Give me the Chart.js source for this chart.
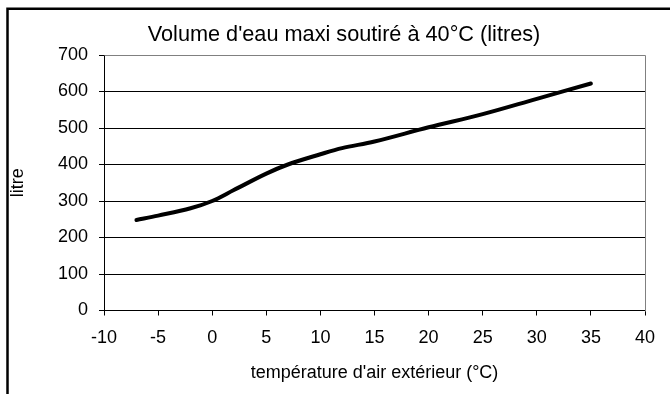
<!DOCTYPE html>
<html>
<head>
<meta charset="utf-8">
<script src="https://cdn.jsdelivr.net/npm/chart.js@4/dist/chart.umd.min.js"></script>
<style>
    html, body { margin: 0; padding: 0; background: #fff; }
    #wrap { width: 670px; height: 394px; position: relative; }
</style>
</head>
<body>
<div id="wrap"><canvas id="volChart"></canvas></div>
<script>
const temperatures = [-7, -5, -2, 0, 2, 5, 7, 10, 12, 15, 20, 25, 30, 35];
const litres = [248, 260, 280, 300, 330, 375, 400, 428, 445, 463, 502, 538, 580, 622];
const xTicks = [-10, -5, 0, 5, 10, 15, 20, 25, 30, 35, 40];
const yTicks = [0, 100, 200, 300, 400, 500, 600, 700];

const chartTitle = "Volume d'eau maxi soutiré à 40°C (litres)";
const FONT = "'Liberation Sans', Arial, sans-serif";

// outer frame, title and the grey top/right edges of the plot
const framePlugin = {
    id: 'frame',
    beforeDraw(chart) {
        const c = chart.ctx;
        c.save();
        c.fillStyle = '#fff';
        c.fillRect(0, 0, chart.width, chart.height);
        c.strokeStyle = '#000';
        c.lineWidth = 2.5;
        c.beginPath();
        c.moveTo(7.5, chart.height);
        c.lineTo(7.5, 8.7);
        c.lineTo(chart.width, 8.7);
        c.stroke();
        c.fillStyle = '#000';
        c.font = `21.7px ${FONT}`;
        c.textAlign = 'center';
        c.textBaseline = 'alphabetic';
        c.fillText(chartTitle, 344, 41);
        c.restore();
    },
    beforeDatasetsDraw(chart) {
        const a = chart.chartArea;
        const c = chart.ctx;
        c.save();
        c.strokeStyle = '#808080';
        c.lineWidth = 1;
        c.beginPath();
        c.moveTo(Math.round(a.left) + 0.5, Math.round(a.top) + 0.5);
        c.lineTo(Math.round(a.right) + 0.5, Math.round(a.top) + 0.5);
        c.lineTo(Math.round(a.right) + 0.5, Math.round(a.bottom) + 0.5);
        c.stroke();
        c.restore();
    }
};

new Chart(document.getElementById('volChart'), {
    type: 'line',
    data: {
        datasets: [{
            data: temperatures.map((t, i) => ({ x: t, y: litres[i] })),
            borderColor: '#000',
            borderWidth: 4,
            borderCapStyle: 'round',
            borderJoinStyle: 'round',
            pointRadius: 0,
            tension: 0.35,
            fill: false
        }]
    },
    plugins: [framePlugin],
    options: {
        responsive: true,
        maintainAspectRatio: false,
        animation: false,
        layout: { padding: { top: 55, right: 25, bottom: 0, left: 0 } },
        plugins: {
            legend: { display: false },
            tooltip: { enabled: false },
            title: { display: false }
        },
        scales: {
            x: {
                type: 'linear',
                min: -10,
                max: 40,
                afterBuildTicks: (s) => { s.ticks = xTicks.map(v => ({ value: v })); },
                afterFit: (s) => { s.height = 83.5; },
                grid: { drawOnChartArea: false, color: '#000', tickLength: 5 },
                border: { color: '#000', width: 1 },
                ticks: { color: '#000', font: { family: FONT, size: 18 }, padding: 12, maxRotation: 0 },
                title: {
                    display: true,
                    text: "température d'air extérieur (°C)",
                    color: '#000',
                    font: { family: FONT, size: 18 },
                    padding: { top: 10, bottom: 10 }
                }
            },
            y: {
                min: 0,
                max: 700,
                afterBuildTicks: (s) => { s.ticks = yTicks.map(v => ({ value: v })); },
                afterFit: (s) => { s.width = 104; },
                grid: {
                    color: (ctx) => ctx.tick && ctx.tick.value === 700 ? '#808080' : '#000',
                    tickColor: '#000',
                    tickLength: 5
                },
                border: { color: '#000', width: 1 },
                ticks: { color: '#000', font: { family: FONT, size: 18 }, padding: 11 },
                title: {
                    display: true,
                    text: 'litre',
                    color: '#000',
                    font: { family: FONT, size: 18 },
                    padding: { top: 7, bottom: 7 }
                }
            }
        }
    }
});
</script>
</body>
</html>
